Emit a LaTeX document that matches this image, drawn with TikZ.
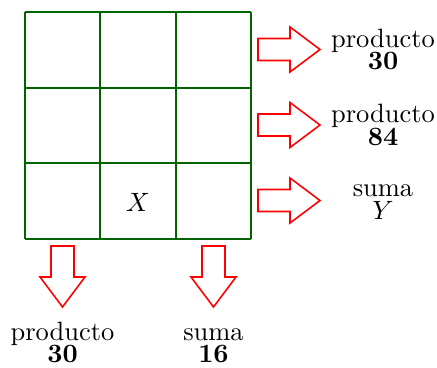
\documentclass[tikz,border=0pt]{standalone}
\usepackage{amsmath}
\begin{document}
\begin{tikzpicture}[x=0.3777pt,y=-0.3777pt,
  gridline/.style={draw=gridgreen,line width=0.75pt},
  bigarrow/.style={draw=red,line width=0.6pt,line join=miter},
  lbl/.style={anchor=base,inner sep=0pt,font=\fontsize{10}{12}\selectfont}]
\definecolor{gridgreen}{RGB}{0,100,0}
\useasboundingbox (0,0) rectangle (437,367);
% grid
\foreach \x in {25,100,176,251} \draw[gridline] (\x,12) -- (\x,239);
\foreach \y in {12,88,163,239} \draw[gridline] (25,\y) -- (251,\y);
\node[lbl,anchor=center] (X) at (138,202) {$X$};
% right arrows
\foreach \cy in {49.5,125,200.5}
  \draw[bigarrow] (258,\cy-11) -- (290,\cy-11) -- (290,\cy-22.5) -- (320,\cy) -- (290,\cy+22.5) -- (290,\cy+11) -- (258,\cy+11) -- cycle;
% down arrows
\foreach \cx in {62.5,213.5}
  \draw[bigarrow] (\cx-11.5,246) -- (\cx+11.5,246) -- (\cx+11.5,277) -- (\cx+22.5,277) -- (\cx,307) -- (\cx-22.5,277) -- (\cx-11.5,277) -- cycle;
% labels right
\node[lbl] (r1a) at (383,47) {producto};
\node[lbl] (r1b) at (383,69.5) {\textbf{30}};
\node[lbl] (r2a) at (383,122.5) {producto};
\node[lbl] (r2b) at (383,145) {\textbf{84}};
\node[lbl] (r3a) at (383,196) {suma};
\node[lbl] (r3b) at (383,219) {$Y$};
% labels bottom
\node[lbl] (b1a) at (62.5,340) {producto};
\node[lbl] (b1b) at (62.5,362.5) {\textbf{30}};
\node[lbl] (b2a) at (213.5,340) {suma};
\node[lbl] (b2b) at (213.5,362.5) {\textbf{16}};
\end{tikzpicture}
\end{document}
